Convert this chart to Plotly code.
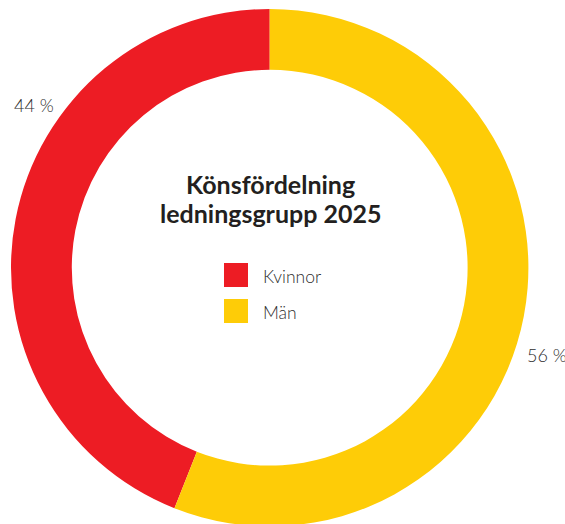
import plotly.graph_objects as go

# ---- data ----
categories = ["Kvinnor", "Män"]
values = [44, 56]
colors = ["#ED1C24", "#FECC07"]
title_lines = ["Könsfördelning", "ledningsgrupp 2025"]

W, H = 565, 528


def px(x):
    return x / W


def py(y):
    return 1 - y / H


# pie geometry (page pixels)
top = 9
size = 517.4
cx = 269.7

share_first = values[0] / sum(values)

fig = go.Figure(
    go.Pie(
        labels=categories,
        values=values,
        marker=dict(colors=colors, line=dict(width=0)),
        hole=0.765,
        sort=False,
        direction="clockwise",
        rotation=-360 * share_first,
        textinfo="none",
        hoverinfo="label+percent",
        showlegend=False,
        domain=dict(x=[px(cx - size / 2), px(cx + size / 2)],
                    y=[py(top + size), py(top)]),
    )
)

annotations = []
# title in the hole (one annotation per line)
for line, yc in zip(title_lines, [184, 212.5]):
    annotations.append(dict(
        x=px(270.5), y=py(yc), xref="paper", yref="paper",
        xanchor="center", yanchor="middle", showarrow=False,
        text="<b>" + line + "</b>",
        font=dict(family="Lato", size=25, color="#231F20"),
    ))

# percentage labels
label_pos = [(12, 105), (525, 355)]
for v, (lx, ly) in zip(values, label_pos):
    annotations.append(dict(
        x=px(lx), y=py(ly), xref="paper", yref="paper",
        xanchor="left", yanchor="middle", showarrow=False,
        text=f"{v} %",
        font=dict(family="Lato", size=18, color="#2E2E2E", weight=300),
    ))

# legend (swatches + text)
shapes = []
leg_x = 224
leg_y = [275, 311]
for cat, col, ly in zip(categories, colors, leg_y):
    shapes.append(dict(
        type="rect", xref="paper", yref="paper",
        x0=px(leg_x), x1=px(leg_x + 24), y0=py(ly - 12), y1=py(ly + 12),
        fillcolor=col, line=dict(width=0),
    ))
    annotations.append(dict(
        x=px(leg_x + 37), y=py(ly + 1), xref="paper", yref="paper",
        xanchor="left", yanchor="middle", showarrow=False,
        text=cat,
        font=dict(family="Lato", size=17.5, color="#2E2E2E", weight=300),
    ))

fig.update_layout(
    width=W, height=H,
    margin=dict(l=0, r=0, t=0, b=0),
    paper_bgcolor="white",
    plot_bgcolor="white",
    annotations=annotations,
    shapes=shapes,
)

fig.write_html(
    "out.html",
    config={"displayModeBar": False},
    post_script=(
        "document.documentElement.style.overflow='hidden';"
        "document.body.style.margin='0';"
        "document.body.style.overflow='hidden';"
    ),
)
